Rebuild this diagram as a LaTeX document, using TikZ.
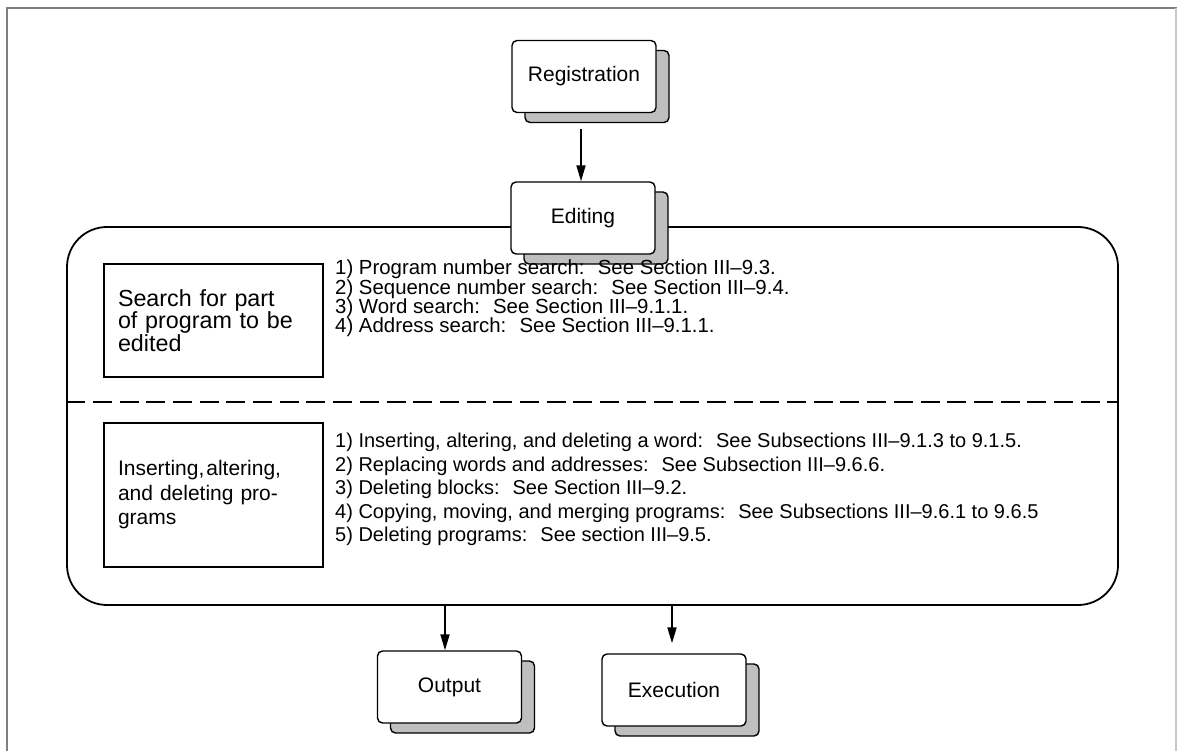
\documentclass[tikz,border=0pt]{standalone}
\usepackage{fontspec}
\setmainfont{Liberation Sans}
\usetikzlibrary{arrows.meta,shadows}
\tikzset{
  stackbox/.style={draw, line width=1.4pt, rounded corners=5pt, fill=white,
    minimum width=144pt, minimum height=72pt, inner sep=0pt,
    font=\fontsize{21}{23}\selectfont,
    copy shadow={fill=black!25, draw, line width=1.4pt, shadow xshift=13pt, shadow yshift=-10pt}},
  plainbox/.style={draw, line width=1.4pt, fill=white, minimum width=219pt,
    inner xsep=14pt, inner ysep=0pt, text width=191pt, align=left},
  listtext/.style={anchor=north west, inner sep=0pt, align=left},
  arr/.style={line width=1.8pt, -{Triangle[length=16pt,width=9pt]}},
  framegray/.style={line width=1.6pt, draw=black!50},
}
\begin{document}
\begin{tikzpicture}[x=1pt,y=-1pt]
\useasboundingbox (0,0) rectangle (1177,751);
\draw[framegray] (7,751) -- (7,8) -- (1177,8);
\draw[line width=1.2pt, draw=black!22] (1176,8) -- (1176,751);

% large rounded frame
\node[draw, line width=1.8pt, rounded corners=40pt, minimum width=1051pt,
      minimum height=378pt, inner sep=0pt] (big) at (592.5,416) {};
\draw[line width=1.1pt, dash pattern=on 19pt off 7.7pt]
  (big.west |- 0,402) coordinate (dl) -- (big.east |- 0,402) coordinate (dr);

\node[stackbox] (reg) at (584,76.5) {Registration};
\node[stackbox] (edit) at (583,218) {Editing};
\node[stackbox] (out) at (449.5,687) {Output};
\node[stackbox] (exe) at (674,690) {Execution};

\draw[arr] ([xshift=-3pt,yshift=-16pt]reg.south) -- ([xshift=-2pt]edit.north);

\node[plainbox, minimum height=113pt, font=\fontsize{23.3}{19.5}\selectfont]
  (search) at (213.5,320.5) {Search for part\\of program to be\\edited};
\node[plainbox, minimum height=144pt, font=\fontsize{21}{24.5}\selectfont]
  (insert) at (213.5,495) {Inserting,\kern2pt altering,\\and deleting pro-\\grams};

\node[listtext, font=\fontsize{20.4}{19.3}\selectfont] (slist) at (335,260)
  {1) Program number search:~ See Section III--9.3.\\
   2) Sequence number search:~ See Section III--9.4.\\
   3) Word search:~ See Section III--9.1.1.\\
   4) Address search:~ See Section III--9.1.1.};
\node[listtext, font=\fontsize{20}{23.5}\selectfont] (ilist) at (335,433)
  {1) Inserting, altering, and deleting a word:~ See Subsections III--9.1.3 to 9.1.5.\\
   2) Replacing words and addresses:~ See Subsection III--9.6.6.\\
   3) Deleting blocks:~ See Section III--9.2.\\
   4) Copying, moving, and merging programs:~ See Subsections III--9.6.1 to 9.6.5\\
   5) Deleting programs:~ See section III--9.5.};

\draw[arr] (big.south -| 445,0) -- (out.north -| 445,0);
\draw[arr] (big.south -| 672,0) -- ([yshift=10pt]exe.north -| 672,0);
\end{tikzpicture}
\end{document}
